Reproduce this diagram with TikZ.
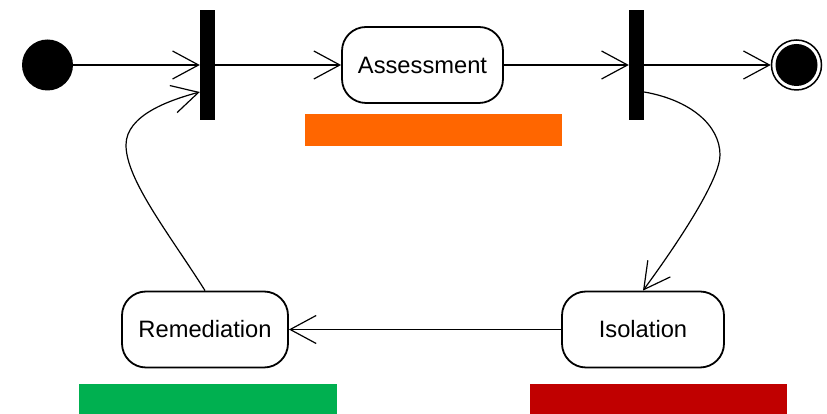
\documentclass[tikz,border=0pt]{standalone}
\usepackage{fontspec}
\setmainfont{Liberation Sans}
\usetikzlibrary{arrows.meta}
\begin{document}
\begin{tikzpicture}[x=1pt,y=1pt,
  state/.style={draw=black, line width=1.8pt, rounded corners=24pt, fill=white,
    minimum height=76pt, inner sep=0pt, font=\fontsize{23.7}{28}\selectfont},
  bar/.style={fill=black, draw=none, minimum width=15pt, minimum height=110pt, inner sep=0pt},
  flow/.style={line width=1.2pt, -{Straight Barb[length=26pt, width=28pt, line width=1.2pt]}},
  band/.style={draw=none, inner sep=0pt, minimum height=32pt}
]
\useasboundingbox (0,0) rectangle (827,414);
% initial and final
\node[circle, fill=black, minimum size=51pt, inner sep=0pt] (init) at (47.5,349) {};
\node[circle, draw=black, line width=1.5pt, fill=white, minimum size=50pt, inner sep=0pt] (final) at (796.5,349) {};
\node[circle, fill=black, minimum size=42pt, inner sep=0pt] (finalin) at (796.5,349) {};
% forks
\node[bar] (fork1) at (207.5,349) {};
\node[bar] (fork2) at (636.5,349) {};
% states
\node[state, minimum width=161pt] (assess) at (422.5,349) {Assessment};
\node[state, minimum width=162pt] (iso) at (643,84.5) {Isolation};
\node[state, minimum width=166pt] (rem) at (205,84.5) {Remediation};
% colour bands
\fill[fill={rgb,255:red,255;green,102;blue,0}] (305,268) rectangle (562,300);
\fill[fill={rgb,255:red,0;green,176;blue,80}] (79,0) rectangle (337,30);
\fill[fill={rgb,255:red,192;green,0;blue,0}] (530,0) rectangle (787,30);
% connectors
\draw[flow] (init.east) -- (fork1.west);
\draw[flow] (fork1.east) -- (assess.west);
\draw[flow] (assess.east) -- (fork2.west);
\draw[flow] (fork2.east) -- (final.west);
\coordinate (f2out) at ([yshift=-27pt]fork2.east);
\coordinate (f1in) at ([yshift=-27pt]fork1.west);
\draw[flow] (f2out) .. controls (690,314) and (720,289) .. (720,259)
  .. controls (720,236) and (683,178) .. (iso.north);
\draw[flow] (iso.west) -- (rem.east);
\draw[flow] (rem.north) .. controls (170,179) and (126,234) .. (126,269)
  .. controls (126,299) and (170,314) .. (f1in);
\end{tikzpicture}
\end{document}
